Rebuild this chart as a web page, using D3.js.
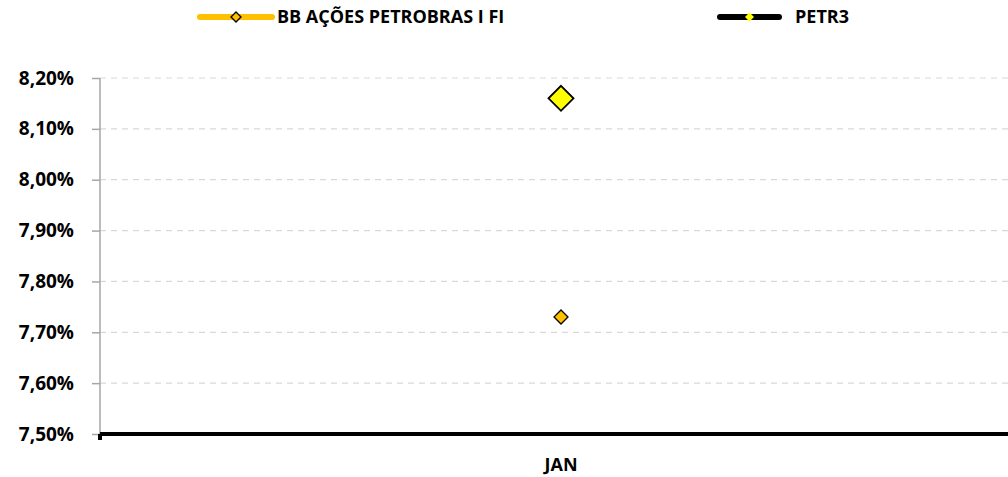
<!DOCTYPE html>
<html><head><meta charset="utf-8">
<script src="https://cdn.jsdelivr.net/npm/d3@7"></script>
<style>body{margin:0;background:#fff}svg{display:block}text{font-family:"Open Sans",sans-serif;font-weight:bold;fill:#000}</style>
</head><body><svg id="c" width="1008" height="477"></svg>
<script>
const categories = ["JAN"];
const seriesNames = ["BB AÇÕES PETROBRAS I FI", "PETR3"];
const bbValues = [7.73];
const petr3Values = [8.16];
const yTicks = [7.5, 7.6, 7.7, 7.8, 7.9, 8.0, 8.1, 8.2];

const svg = d3.select("#c");
const m = {left: 100, top: 78, right: 1022, bottom: 434};
const x = d3.scaleBand().domain(categories).range([m.left, m.right]);
const y = d3.scaleLinear().domain([7.5, 8.2]).range([m.bottom, m.top]);
const fmt = v => v.toFixed(2).replace(".", ",") + "%";

// gridlines
svg.append("g").selectAll("line").data(yTicks.slice(1)).join("line")
  .attr("x1", m.left).attr("x2", 1008)
  .attr("y1", d => y(d)).attr("y2", d => y(d))
  .attr("stroke", "#d9d9d9").attr("stroke-width", 1.2).attr("stroke-dasharray", "6,5");

// y axis
const ya = svg.append("g").attr("transform", `translate(${m.left},0)`)
  .call(d3.axisLeft(y).tickValues(yTicks).tickFormat(fmt).tickSize(8).tickPadding(18));
ya.select(".domain").attr("stroke", "#a6a6a6").attr("stroke-width", 1.5).attr("d", `M0,${m.top}V${m.bottom}`);
ya.selectAll(".tick line").attr("stroke", "#a6a6a6").attr("stroke-width", 1.5);
ya.selectAll(".tick text").style("font-size", "19px").style("font-family", "'Open Sans',sans-serif").style("font-weight", "bold").attr("fill", "#000");

// x axis
const xa = svg.append("g").attr("transform", `translate(0,${m.bottom})`)
  .call(d3.axisBottom(x).tickSize(0));
xa.select(".domain").remove();
xa.selectAll(".tick text").attr("y", 37).attr("dy", 0)
  .style("font-size", "18px").style("font-family", "'Open Sans',sans-serif").style("font-weight", "bold").attr("fill", "#000");
svg.append("line").attr("x1", m.left).attr("x2", 1008).attr("y1", m.bottom).attr("y2", m.bottom)
  .attr("stroke", "#000").attr("stroke-width", 4);
svg.append("rect").attr("x", m.left - 2).attr("y", m.bottom).attr("width", 4).attr("height", 6).attr("fill", "#000");

const diamond = (r) => `M0,${-r}L${r},0L0,${r}L${-r},0Z`;

// points
svg.append("g").selectAll("path").data(petr3Values).join("path")
  .attr("d", diamond(12.5))
  .attr("transform", (d, i) => `translate(${x(categories[i]) + x.bandwidth() / 2},${y(d)})`)
  .attr("fill", "#ffff00").attr("stroke", "#000").attr("stroke-width", 1.8);
svg.append("g").selectAll("path").data(bbValues).join("path")
  .attr("d", diamond(7))
  .attr("transform", (d, i) => `translate(${x(categories[i]) + x.bandwidth() / 2},${y(d)})`)
  .attr("fill", "#ffc000").attr("stroke", "#000").attr("stroke-width", 1.3);

// legend
const leg = [
  {name: seriesNames[0], x0: 200, x1: 272, line: "#ffc000", fill: "#ffc000", r: 5, tx: 277},
  {name: seriesNames[1], x0: 720, x1: 779, line: "#000", fill: "#ffff00", r: 4.5, tx: 795}
];
const lg = svg.append("g").selectAll("g").data(leg).join("g");
lg.append("line").attr("x1", d => d.x0).attr("x2", d => d.x1).attr("y1", 17).attr("y2", 17)
  .attr("stroke", d => d.line).attr("stroke-width", 6).attr("stroke-linecap", "round");
lg.append("path").attr("d", d => diamond(d.r))
  .attr("transform", d => `translate(${(d.x0 + d.x1) / 2},17)`)
  .attr("fill", d => d.fill).attr("stroke", d => d.line === "#000" ? "none" : "#000").attr("stroke-width", 1.3);
lg.append("text").attr("x", d => d.tx).attr("y", 23).style("font-size", "18px").text(d => d.name);
</script></body></html>
